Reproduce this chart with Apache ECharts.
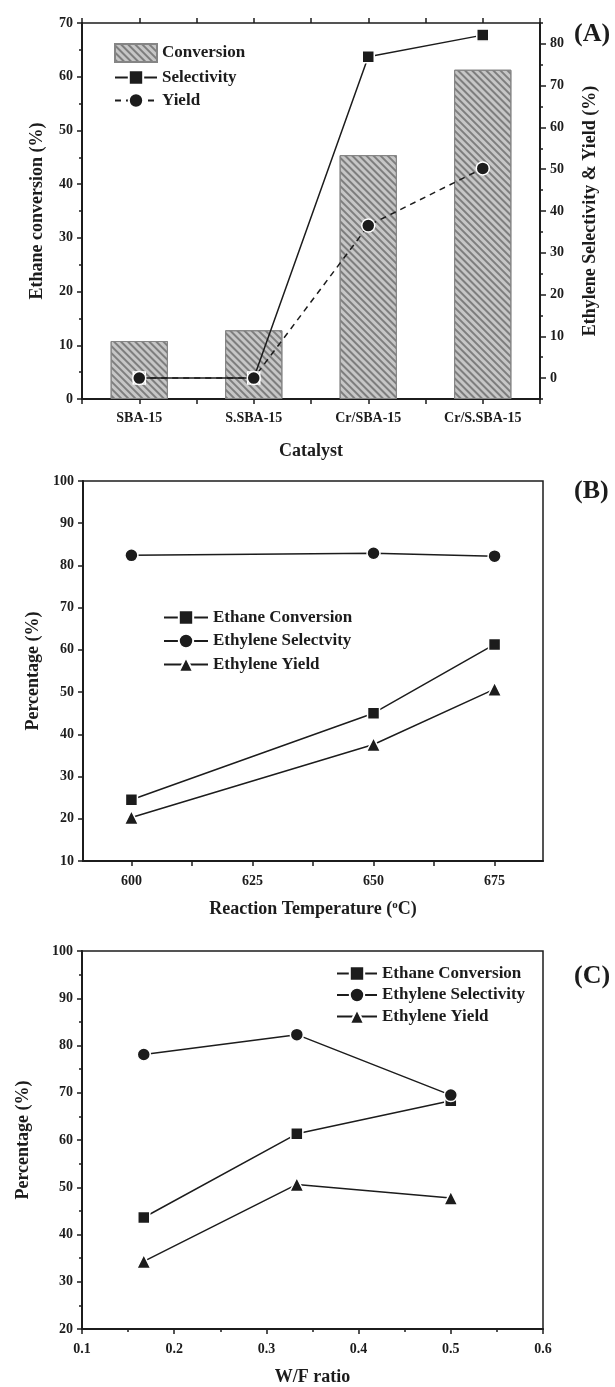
<!DOCTYPE html>
<html>
<head>
<meta charset="utf-8">
<script src="https://cdn.jsdelivr.net/npm/echarts@6/dist/echarts.min.js"></script>
<style>
  html, body { margin: 0; padding: 0; background: #ffffff; }
  #chart { width: 615px; height: 1387px; }
</style>
</head>
<body>
<div id="chart"></div>
<script>
// (A) catalyst screening
const catalysts = ['SBA-15', 'S.SBA-15', 'Cr/SBA-15', 'Cr/S.SBA-15'];
const conversionA = [10.8, 12.8, 45.4, 61.3];
const selectivityA = [0, 0, 76.9, 82.1];
const yieldA = [0, 0, 36.5, 50.2];
const rightTicksA = [0, 10, 20, 30, 40, 50, 60, 70, 80];

// (B) effect of reaction temperature (°C)
const temperatures = [600, 650, 675];
const conversionB = [24.5, 45.0, 61.3];
const selectivityB = [82.4, 82.9, 82.2];
const yieldB = [20.3, 37.6, 50.7];
const tempLabels = [600, 625, 650, 675];
const tempTicks = [600, 612.5, 625, 637.5, 650, 662.5, 675];

// (C) effect of W/F ratio
const wfRatios = [0.167, 0.333, 0.5];
const conversionC = [43.6, 61.3, 68.3];
const selectivityC = [78.1, 82.3, 69.5];
const yieldC = [34.3, 50.6, 47.7];

const FONT = '"Liberation Serif", "Times New Roman", serif';
const INK = '#1c1c1c';

const pairs = (xs, ys) => xs.map((x, i) => [x, ys[i]]);

const tickLabel = { fontFamily: FONT, fontWeight: 'bold', fontSize: 14, color: INK };
const nameText = { fontFamily: FONT, fontWeight: 'bold', fontSize: 18, color: INK };
const legendText = { fontFamily: FONT, fontWeight: 'bold', fontSize: 17, color: INK };
const axisLine = { show: true, onZero: false, lineStyle: { color: INK, width: 2 } };
const tick = (len) => ({ show: true, inside: false, length: len, lineStyle: { color: INK, width: 1.5 } });
const minor = { show: true, splitNumber: 2, length: 3, lineStyle: { color: INK, width: 1.5 } };
const noSplit = { show: false };
const hiddenLine = { show: false, onZero: false };

const box = { show: true, borderColor: INK, borderWidth: 1.5, backgroundColor: 'transparent' };

function markerLine(name, x, y, data, symbol, size, dashed) {
  return {
    name, type: 'line', xAxisIndex: x, yAxisIndex: y, data,
    symbol, symbolSize: size,
    itemStyle: { color: INK, borderColor: '#ffffff', borderWidth: 1.5 },
    lineStyle: { color: INK, width: 1.5, type: dashed ? [6, 5] : 'solid' },
    z: 3
  };
}

const option = {
  animation: false,
  backgroundColor: '#ffffff',
  title: [
    { text: '(A)', left: 569, top: 16, textStyle: { fontFamily: FONT, fontWeight: 'bold', fontSize: 26, color: INK } },
    { text: '(B)', left: 569, top: 473, textStyle: { fontFamily: FONT, fontWeight: 'bold', fontSize: 26, color: INK } },
    { text: '(C)', left: 569, top: 958, textStyle: { fontFamily: FONT, fontWeight: 'bold', fontSize: 26, color: INK } }
  ],
  grid: [
    Object.assign({ left: 82, top: 23, width: 458, height: 376 }, box),
    Object.assign({ left: 83, top: 481, width: 460, height: 380 }, box),
    Object.assign({ left: 82, top: 951, width: 461, height: 378 }, box)
  ],
  legend: [
    {
      data: [{ name: 'Conversion', icon: 'rect' }, 'Selectivity', 'Yield'], orient: 'vertical',
      left: 109, top: 38, itemWidth: 42, itemHeight: 18, itemGap: 6,
      textStyle: legendText, selectedMode: false
    },
    {
      data: ['Ethane Conversion', 'Ethylene Selectvity', 'Ethylene Yield'], orient: 'vertical',
      left: 158, top: 604, itemWidth: 44, itemHeight: 18, itemGap: 6.5,
      textStyle: legendText, selectedMode: false
    },
    {
      data: ['Ethane Conversion', 'Ethylene Selectivity', 'Ethylene Yield'], orient: 'vertical',
      left: 331, top: 960, itemWidth: 40, itemHeight: 18, itemGap: 4.5,
      textStyle: legendText, selectedMode: false
    }
  ],
  xAxis: [
    {
      type: 'category', gridIndex: 0, data: catalysts,
      axisLine, axisTick: { show: false },
      axisLabel: Object.assign({ margin: 12 }, tickLabel),
      name: 'Catalyst', nameLocation: 'middle', nameGap: 43, nameTextStyle: nameText
    },
    {
      type: 'value', gridIndex: 0, position: 'bottom', min: 0, max: 4, interval: 0.5,
      axisLine: hiddenLine, axisTick: tick(5), axisLabel: { show: false }, splitLine: noSplit
    },
    {
      type: 'value', gridIndex: 0, position: 'top', min: 0, max: 4, interval: 0.5,
      axisLine: hiddenLine, axisTick: tick(5), axisLabel: { show: false }, splitLine: noSplit
    },
    {
      type: 'value', gridIndex: 1, min: 590, max: 685,
      axisLine, axisTick: Object.assign(tick(5), { customValues: tempTicks }),
      axisLabel: Object.assign({ margin: 13, customValues: tempLabels }, tickLabel),
      splitLine: noSplit,
      name: 'Reaction Temperature ({sup|o}C)', nameLocation: 'middle', nameGap: 39,
      nameTextStyle: Object.assign({
        rich: { sup: { fontFamily: FONT, fontWeight: 'bold', fontSize: 11, color: INK, verticalAlign: 'top', lineHeight: 18 } }
      }, nameText)
    },
    {
      type: 'value', gridIndex: 2, min: 0.1, max: 0.6, interval: 0.1,
      axisLine, axisTick: tick(5), minorTick: minor,
      axisLabel: Object.assign({ margin: 13, formatter: (v) => v.toFixed(1) }, tickLabel),
      splitLine: noSplit, minorSplitLine: noSplit,
      name: 'W/F ratio', nameLocation: 'middle', nameGap: 39, nameTextStyle: nameText
    }
  ],
  yAxis: [
    {
      type: 'value', gridIndex: 0, min: 0, max: 70, interval: 10,
      axisLine, axisTick: tick(5), minorTick: minor,
      axisLabel: Object.assign({ margin: 9 }, tickLabel),
      splitLine: noSplit, minorSplitLine: noSplit,
      name: 'Ethane conversion (%)', nameLocation: 'middle', nameRotate: 90, nameGap: 36, nameTextStyle: nameText
    },
    {
      type: 'value', gridIndex: 0, position: 'right', min: -5, max: 85,
      axisLine, axisTick: Object.assign(tick(6), { customValues: rightTicksA }),
      axisLabel: Object.assign({ margin: 10, customValues: rightTicksA }, tickLabel),
      splitLine: noSplit,
      name: 'Ethylene Selectivity & Yield (%)', nameLocation: 'middle', nameRotate: 90, nameGap: 41, nameTextStyle: nameText
    },
    {
      type: 'value', gridIndex: 0, position: 'right', min: -5, max: 85, interval: 5,
      axisLine: hiddenLine, axisTick: tick(3), axisLabel: { show: false }, splitLine: noSplit
    },
    {
      type: 'value', gridIndex: 1, min: 10, max: 100, interval: 10,
      axisLine, axisTick: tick(5),
      axisLabel: Object.assign({ margin: 9 }, tickLabel),
      splitLine: noSplit,
      name: 'Percentage (%)', nameLocation: 'middle', nameRotate: 90, nameGap: 39, nameTextStyle: nameText
    },
    {
      type: 'value', gridIndex: 2, min: 20, max: 100, interval: 10,
      axisLine, axisTick: tick(5), minorTick: minor,
      axisLabel: Object.assign({ margin: 9 }, tickLabel),
      splitLine: noSplit, minorSplitLine: noSplit,
      name: 'Percentage (%)', nameLocation: 'middle', nameRotate: 90, nameGap: 50, nameTextStyle: nameText
    }
  ],
  series: [
    {
      name: 'Conversion', type: 'bar', xAxisIndex: 0, yAxisIndex: 0, data: conversionA,
      barWidth: '50%',
      itemStyle: {
        color: '#c6c6c6', borderColor: '#858585', borderWidth: 1,
        decal: {
          symbol: 'rect', color: '#7e7e7e', symbolSize: 1,
          dashArrayX: [1, 0], dashArrayY: [1.2, 2.4], rotation: Math.PI / 4
        }
      },
      z: 2
    },
    markerLine('Selectivity', 0, 1, selectivityA, 'rect', 12, false),
    markerLine('Yield', 0, 1, yieldA, 'circle', 13, true),

    markerLine('Ethane Conversion', 3, 3, pairs(temperatures, conversionB), 'rect', 12, false),
    markerLine('Ethylene Selectvity', 3, 3, pairs(temperatures, selectivityB), 'circle', 13, false),
    markerLine('Ethylene Yield', 3, 3, pairs(temperatures, yieldB), 'triangle', 14, false),

    markerLine('Ethane Conversion', 4, 4, pairs(wfRatios, conversionC), 'rect', 12, false),
    markerLine('Ethylene Selectivity', 4, 4, pairs(wfRatios, selectivityC), 'circle', 13, false),
    markerLine('Ethylene Yield', 4, 4, pairs(wfRatios, yieldC), 'triangle', 14, false)
  ]
};

echarts.init(document.getElementById('chart'), null, { renderer: 'canvas' }).setOption(option);
</script>
</body>
</html>
